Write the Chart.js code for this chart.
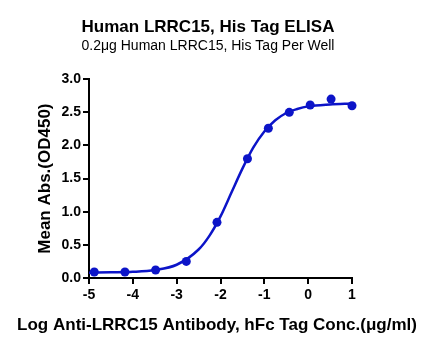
<!DOCTYPE html>
<html>
<head>
<meta charset="utf-8">
<script src="https://cdn.jsdelivr.net/npm/chart.js@4"></script>
<style>
    html, body { margin: 0; padding: 0; background: #fff; }
    canvas { display: block; }
</style>
</head>
<body>
<canvas id="elisaChart" width="434" height="350"></canvas>
<script>
// measured points: log concentration vs mean OD450
const logConc = [-4.88, -4.18, -3.48, -2.78, -2.08, -1.385, -0.908, -0.431, 0.046, 0.523, 1.0];
const meanAbs = [0.09, 0.09, 0.12, 0.25, 0.84, 1.80, 2.26, 2.50, 2.61, 2.70, 2.60];

// fitted curve
const curveX = [-5, -4.5, -4, -3.5, -3, -2.5, -2.25, -2, -1.75, -1.5, -1.25, -1, -0.75, -0.5, -0.25, 0, 0.5, 1];
const curveY = [0.08, 0.085, 0.093, 0.12, 0.20, 0.43, 0.64, 0.93, 1.29, 1.65, 1.97, 2.21, 2.38, 2.49, 2.55, 2.59, 2.62, 2.635];

const xTicks = [-5, -4, -3, -2, -1, 0, 1];
const yTicks = [0, 0.5, 1.0, 1.5, 2.0, 2.5, 3.0];

const xTitle = 'Log Anti-LRRC15 Antibody, hFc Tag Conc.(μg/ml)';

const blue = '#0c14c8';
const fontFamily = "'Liberation Sans', Arial, sans-serif";

const toXY = (xs, ys) => xs.map((x, i) => ({ x: x, y: ys[i] }));

// x axis title is wider than the plot, so draw it ourselves (no squeezing)
const xTitlePlugin = {
    id: 'xTitle',
    afterDraw(chart) {
        const ctx = chart.ctx;
        ctx.save();
        ctx.font = 'bold 17px ' + fontFamily;
        ctx.fillStyle = '#000';
        ctx.textAlign = 'center';
        ctx.textBaseline = 'middle';
        ctx.fillText(xTitle, 217, 325);
        ctx.restore();
    }
};

new Chart(document.getElementById('elisaChart'), {
    type: 'scatter',
    data: {
        datasets: [
            {
                label: 'Mean Abs.',
                data: toXY(logConc, meanAbs),
                backgroundColor: blue,
                borderColor: blue,
                pointRadius: 4.5,
                pointBorderWidth: 0,
                showLine: false,
                clip: false
            },
            {
                label: 'Fit',
                data: toXY(curveX, curveY),
                borderColor: blue,
                borderWidth: 2.5,
                pointRadius: 0,
                showLine: true,
                cubicInterpolationMode: 'monotone',
                clip: false
            }
        ]
    },
    options: {
        responsive: false,
        animation: false,
        layout: { padding: { left: 0, right: 18, top: 0, bottom: 0 } },
        plugins: {
            legend: { display: false },
            tooltip: { enabled: false },
            title: {
                display: true,
                text: 'Human LRRC15, His Tag ELISA',
                color: '#000',
                font: { family: fontFamily, size: 17, weight: 'bold' },
                padding: { top: 17, bottom: 0 }
            },
            subtitle: {
                display: true,
                text: '0.2μg Human LRRC15, His Tag Per Well',
                color: '#000',
                font: { family: fontFamily, size: 14 },
                padding: { top: 0, bottom: 25 }
            }
        },
        scales: {
            x: {
                type: 'linear',
                min: -5,
                max: 1,
                afterBuildTicks: s => { s.ticks = xTicks.map(v => ({ value: v })); },
                afterFit: s => { s.height = 72; },
                border: { color: '#000', width: 2 },
                grid: { drawOnChartArea: false, drawTicks: true, tickLength: 6, color: '#000', lineWidth: 2 },
                ticks: {
                    color: '#000',
                    padding: 3,
                    font: { family: fontFamily, size: 14, weight: 'bold' }
                }
            },
            y: {
                min: 0,
                max: 3,
                afterBuildTicks: s => { s.ticks = yTicks.map(v => ({ value: v })); },
                afterFit: s => { s.width = 89; },
                border: { color: '#000', width: 2 },
                grid: { drawOnChartArea: false, drawTicks: true, tickLength: 6, color: '#000', lineWidth: 2 },
                ticks: {
                    color: '#000',
                    padding: 2,
                    font: { family: fontFamily, size: 14, weight: 'bold' },
                    callback: v => v.toFixed(1)
                },
                title: {
                    display: true,
                    text: 'Mean Abs.(OD450)',
                    color: '#000',
                    font: { family: fontFamily, size: 17, weight: 'bold' },
                    padding: { top: 35, bottom: 0 }
                }
            },
            // empty spacer on the right so the titles centre like the original
            spacer: {
                axis: 'y',
                position: 'right',
                min: 0,
                max: 3,
                afterFit: s => { s.width = 64; },
                border: { display: false },
                grid: { display: false },
                ticks: { display: false }
            }
        }
    },
    plugins: [xTitlePlugin]
});
</script>
</body>
</html>
